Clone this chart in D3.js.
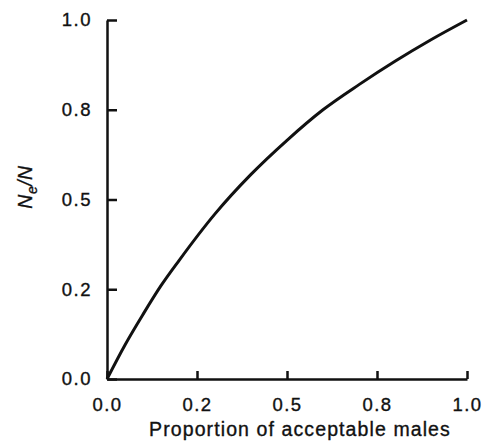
<!DOCTYPE html>
<html>
<head>
<meta charset="utf-8">
<script src="https://cdn.jsdelivr.net/npm/d3@7"></script>
<style>
  body { margin: 0; background: #fff; }
  svg text { font-family: "Liberation Sans", Arial, sans-serif; fill: #111; stroke: #111; stroke-width: 0.35px; }
</style>
</head>
<body>
<svg width="486" height="448"></svg>
<script>
// proportion of acceptable males (x) and Ne/N (y)
var propMales = [0, 0.05, 0.1, 0.15, 0.2, 0.3, 0.4, 0.5, 0.6, 0.7, 0.8, 0.9, 1.0];
var neRatio   = [0, 0.095, 0.18, 0.26, 0.33, 0.46, 0.57, 0.665, 0.75, 0.82, 0.885, 0.945, 1.0];

var tickValues = [0, 0.25, 0.5, 0.75, 1.0];
var tickLabels = ["0.0", "0.2", "0.5", "0.8", "1.0"];

var svg = d3.select("svg");

var x = d3.scaleLinear().domain([0, 1]).range([107, 467]);
var y = d3.scaleLinear().domain([0, 1]).range([379, 20]);

var fmt = function(d, i) { return tickLabels[i]; };

// y axis, ticks pointing inward
svg.append("g")
    .attr("transform", "translate(" + x(0) + ",0)")
    .call(d3.axisLeft(y).tickValues(tickValues).tickFormat(fmt).tickSizeInner(-10).tickSizeOuter(0).tickPadding(15));

// x axis, ticks pointing up
svg.append("g")
    .attr("transform", "translate(0," + y(0) + ")")
    .call(d3.axisBottom(x).tickValues(tickValues).tickFormat(fmt).tickSizeInner(-8).tickSizeOuter(0).tickPadding(19));

svg.selectAll(".domain").attr("stroke", "#111").attr("stroke-width", 2.5);
svg.selectAll(".tick line").attr("stroke", "#111").attr("stroke-width", 2.5);
svg.selectAll(".tick text")
    .attr("font-size", 18.5)
    .attr("letter-spacing", 1.5)
    .style("font-family", "Liberation Sans, Arial, sans-serif")
    .attr("fill", "#111");

// curve
var pts = propMales.map(function(d, i) { return [d, neRatio[i]]; });
svg.append("path")
    .datum(pts)
    .attr("fill", "none")
    .attr("stroke", "#111")
    .attr("stroke-width", 3)
    .attr("d", d3.line().x(function(d) { return x(d[0]); }).y(function(d) { return y(d[1]); }).curve(d3.curveMonotoneX));

// axis titles
svg.append("text")
    .attr("x", 300).attr("y", 436)
    .attr("text-anchor", "middle")
    .attr("font-size", 19.5)
    .attr("letter-spacing", 1.1)
    .text("Proportion of acceptable males");

var yt = svg.append("text")
    .attr("transform", "translate(32,187) rotate(-90)")
    .attr("text-anchor", "middle")
    .attr("font-size", 19.5)
    .attr("letter-spacing", 0.5)
    .attr("font-style", "italic");
yt.append("tspan").text("N");
yt.append("tspan").attr("font-size", 14).attr("dy", 5).text("e");
yt.append("tspan").attr("dy", -5).text("/N");
</script>
</body>
</html>
